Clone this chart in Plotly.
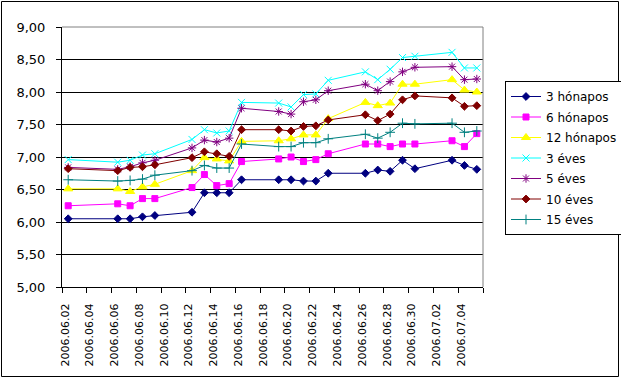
import plotly.graph_objects as go
from datetime import datetime, timedelta

dates = ["2006-06-02", "2006-06-06", "2006-06-07", "2006-06-08", "2006-06-09",
         "2006-06-12", "2006-06-13", "2006-06-14", "2006-06-15", "2006-06-16",
         "2006-06-19", "2006-06-20", "2006-06-21", "2006-06-22", "2006-06-23",
         "2006-06-26", "2006-06-27", "2006-06-28", "2006-06-29", "2006-06-30",
         "2006-07-03", "2006-07-04", "2006-07-05"]

tick_labels = ["2006.06.02", "2006.06.04", "2006.06.06", "2006.06.08", "2006.06.10",
               "2006.06.12", "2006.06.14", "2006.06.16", "2006.06.18", "2006.06.20",
               "2006.06.22", "2006.06.24", "2006.06.26", "2006.06.28", "2006.06.30",
               "2006.07.02", "2006.07.04"]

honap3 = [6.05, 6.05, 6.05, 6.08, 6.10, 6.15, 6.45, 6.45, 6.45, 6.65, 6.65, 6.65,
          6.63, 6.63, 6.75, 6.75, 6.80, 6.78, 6.95, 6.82, 6.95, 6.87, 6.81]
honap6 = [6.25, 6.28, 6.25, 6.36, 6.36, 6.53, 6.73, 6.56, 6.59, 6.93, 6.97, 7.00,
          6.93, 6.96, 7.05, 7.20, 7.20, 7.16, 7.20, 7.20, 7.25, 7.16, 7.36]
honap12 = [6.51, 6.51, 6.47, 6.54, 6.58, 6.79, 6.99, 6.97, 6.94, 7.24, 7.25, 7.28,
           7.34, 7.34, 7.59, 7.84, 7.79, 7.83, 8.12, 8.12, 8.19, 8.03, 8.00]
eves3 = [6.96, 6.92, 6.95, 7.03, 7.05, 7.27, 7.42, 7.37, 7.40, 7.84, 7.83, 7.77,
         7.96, 7.97, 8.18, 8.31, 8.19, 8.35, 8.53, 8.55, 8.61, 8.37, 8.37]
eves5 = [6.84, 6.81, 6.85, 6.91, 6.95, 7.14, 7.26, 7.23, 7.29, 7.75, 7.70, 7.66,
         7.85, 7.88, 8.02, 8.12, 8.02, 8.16, 8.31, 8.38, 8.39, 8.19, 8.20]
eves10 = [6.82, 6.79, 6.84, 6.85, 6.88, 6.99, 7.08, 7.05, 7.01, 7.42, 7.42, 7.40,
          7.47, 7.48, 7.57, 7.65, 7.56, 7.66, 7.88, 7.94, 7.91, 7.78, 7.79]
eves15 = [6.65, 6.63, 6.64, 6.66, 6.72, 6.79, 6.87, 6.83, 6.83, 7.20, 7.16, 7.16,
          7.22, 7.22, 7.28, 7.35, 7.29, 7.38, 7.52, 7.51, 7.52, 7.38, 7.40]

series = [
    ("3 hónapos", honap3, "#000080", "diamond", 6),
    ("6 hónapos", honap6, "#FF00FF", "square", 6),
    ("12 hónapos", honap12, "#FFFF00", "triangle-up", 8),
    ("3 éves", eves3, "#00FFFF", "x-thin-open", 7),
    ("5 éves", eves5, "#800080", "asterisk-open", 7),
    ("10 éves", eves10, "#800000", "diamond", 6),
    ("15 éves", eves15, "#008080", "cross-thin-open", 7),
]

fig = go.Figure()
for name, vals, col, sym, sz in series:
    fig.add_trace(go.Scatter(
        x=dates, y=vals, name=name, legendgroup=name, mode="lines+markers",
        line=dict(color=col, width=1),
        marker=dict(symbol=sym, size=sz, color=col, line=dict(color=col, width=1)),
    ))

half = timedelta(hours=12)
tick_dates = [datetime.strptime(t, "%Y.%m.%d") - half for t in tick_labels]
tick_dates.append(tick_dates[-1] + timedelta(days=2))
tick_text = tick_labels + [""]

x0 = datetime(2006, 6, 2) - half
x1 = datetime(2006, 7, 5) + half

W, H = 621, 379
L, R, T, B = 62, 483, 27, 287
pw, ph = R - L, B - T


def px(x):
    return (x - L) / pw


def py(y):
    return (B - y) / ph


fig.update_layout(
    width=W, height=H,
    margin=dict(l=L, r=W - R, t=T, b=H - B, autoexpand=False),
    paper_bgcolor="white", plot_bgcolor="white",
    separators=", ",
    font=dict(family="DejaVu Sans", color="black", size=12),
    showlegend=True,
    legend=dict(
        xref="container", yref="container",
        x=505 / W, y=1 - 81 / H, xanchor="left", yanchor="top",
        bordercolor="black", borderwidth=1, bgcolor="white",
        font=dict(family="DejaVu Sans", size=12, color="black"),
        itemwidth=30, tracegroupgap=1.5, traceorder="grouped",
    ),
    xaxis=dict(
        type="date", range=[x0, x1], automargin=False,
        tickmode="array", tickvals=tick_dates, ticktext=tick_text,
        tickangle=-90, ticks="outside", ticklen=5, tickcolor="black",
        showgrid=False, showline=True, linecolor="black", linewidth=1,
        tickfont=dict(family="DejaVu Sans", size=11, color="black"),
        ticklabelshift=3, ticklabelstandoff=6,
    ),
    yaxis=dict(
        range=[5, 9], dtick=0.5, tick0=5, tickformat=".2f", automargin=False,
        ticks="outside", ticklen=5, tickcolor="black",
        showgrid=True, gridcolor="black", gridwidth=1,
        showline=True, linecolor="black", linewidth=1,
        zeroline=False,
        tickfont=dict(family="DejaVu Sans", size=13, color="black"),
        ticklabelstandoff=8,
    ),
    shapes=[
        dict(type="line", xref="paper", yref="paper", x0=0, x1=1, y0=1, y1=1,
             line=dict(color="#808080", width=1), layer="above"),
        dict(type="line", xref="paper", yref="paper", x0=1, x1=1, y0=0, y1=1,
             line=dict(color="#808080", width=1), layer="above"),
        dict(type="rect", xref="paper", yref="paper",
             x0=px(1.5), x1=px(618.5), y0=py(376.5), y1=py(1.5),
             line=dict(color="black", width=1), layer="above"),
    ],
)

fig.write_html("out.html", config={"displayModeBar": False},
               post_script="document.body.style.margin='0';")
